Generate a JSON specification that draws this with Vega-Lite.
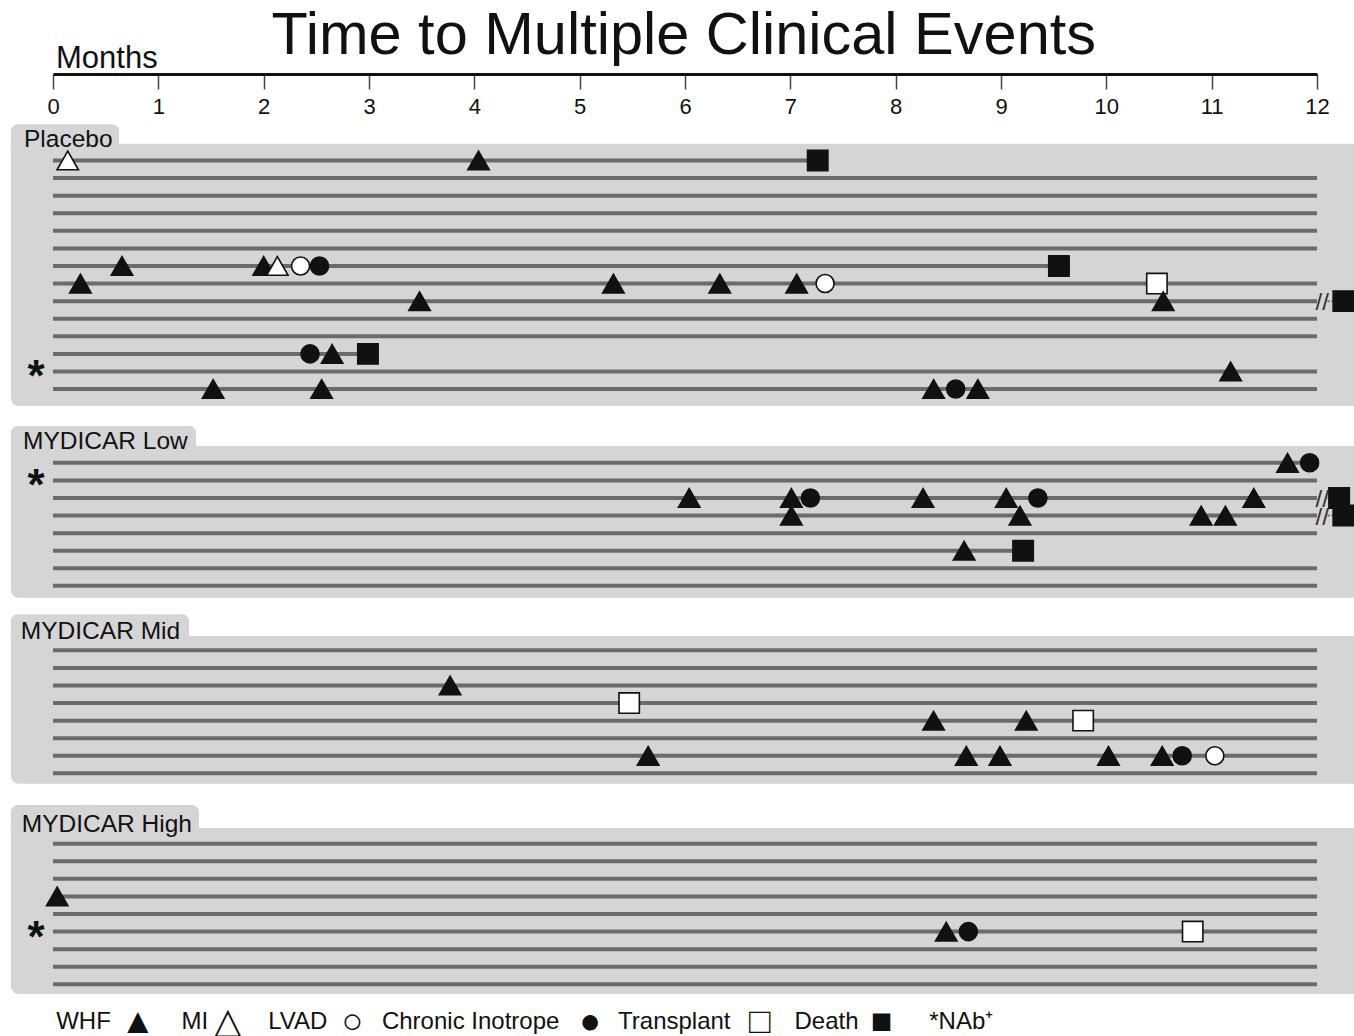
{
  "$schema": "https://vega.github.io/schema/vega-lite/v6.json",
  "background": "white",
  "padding": {"left": 10, "top": 5, "right": 0, "bottom": 0},
  "title": {"text": "Time to Multiple Clinical Events", "fontSize": 59.5, "fontWeight": "normal", "font": "Liberation Sans", "color": "#111111", "anchor": "middle", "offset": -23},
  "config": {"view": {"stroke": null}, "font": "Liberation Sans"},
  "datasets": {
    "groups": [
      {"group": "Placebo"}, {"group": "MYDICAR Low"}, {"group": "MYDICAR Mid"}, {"group": "MYDICAR High"}
    ],
    "patients": [
      {"group": "Placebo", "id": 1, "start": 0, "end": 7.26, "nab": false, "beyond": false},
      {"group": "Placebo", "id": 2, "start": 0, "end": 12, "nab": false, "beyond": false},
      {"group": "Placebo", "id": 3, "start": 0, "end": 12, "nab": false, "beyond": false},
      {"group": "Placebo", "id": 4, "start": 0, "end": 12, "nab": false, "beyond": false},
      {"group": "Placebo", "id": 5, "start": 0, "end": 12, "nab": false, "beyond": false},
      {"group": "Placebo", "id": 6, "start": 0, "end": 12, "nab": false, "beyond": false},
      {"group": "Placebo", "id": 7, "start": 0, "end": 9.55, "nab": false, "beyond": false},
      {"group": "Placebo", "id": 8, "start": 0, "end": 12, "nab": false, "beyond": false},
      {"group": "Placebo", "id": 9, "start": 0, "end": 12, "nab": false, "beyond": true},
      {"group": "Placebo", "id": 10, "start": 0, "end": 12, "nab": false, "beyond": false},
      {"group": "Placebo", "id": 11, "start": 0, "end": 12, "nab": false, "beyond": false},
      {"group": "Placebo", "id": 12, "start": 0, "end": 2.99, "nab": false, "beyond": false},
      {"group": "Placebo", "id": 13, "start": 0, "end": 12, "nab": true, "beyond": false},
      {"group": "Placebo", "id": 14, "start": 0, "end": 12, "nab": false, "beyond": false},
      {"group": "MYDICAR Low", "id": 1, "start": 0, "end": 12, "nab": false, "beyond": false},
      {"group": "MYDICAR Low", "id": 2, "start": 0, "end": 12, "nab": true, "beyond": false},
      {"group": "MYDICAR Low", "id": 3, "start": 0, "end": 12, "nab": false, "beyond": true},
      {"group": "MYDICAR Low", "id": 4, "start": 0, "end": 12, "nab": false, "beyond": true},
      {"group": "MYDICAR Low", "id": 5, "start": 0, "end": 12, "nab": false, "beyond": false},
      {"group": "MYDICAR Low", "id": 6, "start": 0, "end": 9.21, "nab": false, "beyond": false},
      {"group": "MYDICAR Low", "id": 7, "start": 0, "end": 12, "nab": false, "beyond": false},
      {"group": "MYDICAR Low", "id": 8, "start": 0, "end": 12, "nab": false, "beyond": false},
      {"group": "MYDICAR Mid", "id": 1, "start": 0, "end": 12, "nab": false, "beyond": false},
      {"group": "MYDICAR Mid", "id": 2, "start": 0, "end": 12, "nab": false, "beyond": false},
      {"group": "MYDICAR Mid", "id": 3, "start": 0, "end": 12, "nab": false, "beyond": false},
      {"group": "MYDICAR Mid", "id": 4, "start": 0, "end": 12, "nab": false, "beyond": false},
      {"group": "MYDICAR Mid", "id": 5, "start": 0, "end": 12, "nab": false, "beyond": false},
      {"group": "MYDICAR Mid", "id": 6, "start": 0, "end": 12, "nab": false, "beyond": false},
      {"group": "MYDICAR Mid", "id": 7, "start": 0, "end": 12, "nab": false, "beyond": false},
      {"group": "MYDICAR Mid", "id": 8, "start": 0, "end": 12, "nab": false, "beyond": false},
      {"group": "MYDICAR High", "id": 1, "start": 0, "end": 12, "nab": false, "beyond": false},
      {"group": "MYDICAR High", "id": 2, "start": 0, "end": 12, "nab": false, "beyond": false},
      {"group": "MYDICAR High", "id": 3, "start": 0, "end": 12, "nab": false, "beyond": false},
      {"group": "MYDICAR High", "id": 4, "start": 0, "end": 12, "nab": false, "beyond": false},
      {"group": "MYDICAR High", "id": 5, "start": 0, "end": 12, "nab": false, "beyond": false},
      {"group": "MYDICAR High", "id": 6, "start": 0, "end": 12, "nab": true, "beyond": false},
      {"group": "MYDICAR High", "id": 7, "start": 0, "end": 12, "nab": false, "beyond": false},
      {"group": "MYDICAR High", "id": 8, "start": 0, "end": 12, "nab": false, "beyond": false},
      {"group": "MYDICAR High", "id": 9, "start": 0, "end": 12, "nab": false, "beyond": false}
    ],
    "events": [
      {"group": "Placebo", "id": 1, "month": 0.14, "event": "MI"},
      {"group": "Placebo", "id": 1, "month": 4.04, "event": "WHF"},
      {"group": "Placebo", "id": 1, "month": 7.26, "event": "Death"},
      {"group": "Placebo", "id": 7, "month": 0.655, "event": "WHF"},
      {"group": "Placebo", "id": 7, "month": 2.0, "event": "WHF"},
      {"group": "Placebo", "id": 7, "month": 2.13, "event": "MI"},
      {"group": "Placebo", "id": 7, "month": 2.35, "event": "LVAD"},
      {"group": "Placebo", "id": 7, "month": 2.53, "event": "Chronic Inotrope"},
      {"group": "Placebo", "id": 7, "month": 9.55, "event": "Death"},
      {"group": "Placebo", "id": 8, "month": 0.26, "event": "WHF"},
      {"group": "Placebo", "id": 8, "month": 5.32, "event": "WHF"},
      {"group": "Placebo", "id": 8, "month": 6.33, "event": "WHF"},
      {"group": "Placebo", "id": 8, "month": 7.06, "event": "WHF"},
      {"group": "Placebo", "id": 8, "month": 7.33, "event": "LVAD"},
      {"group": "Placebo", "id": 8, "month": 10.48, "event": "Transplant"},
      {"group": "Placebo", "id": 9, "month": 3.48, "event": "WHF"},
      {"group": "Placebo", "id": 9, "month": 10.54, "event": "WHF"},
      {"group": "Placebo", "id": 9, "month": 12.25, "event": "Death"},
      {"group": "Placebo", "id": 12, "month": 2.44, "event": "Chronic Inotrope"},
      {"group": "Placebo", "id": 12, "month": 2.65, "event": "WHF"},
      {"group": "Placebo", "id": 12, "month": 2.99, "event": "Death"},
      {"group": "Placebo", "id": 13, "month": 11.18, "event": "WHF"},
      {"group": "Placebo", "id": 14, "month": 1.52, "event": "WHF"},
      {"group": "Placebo", "id": 14, "month": 2.55, "event": "WHF"},
      {"group": "Placebo", "id": 14, "month": 8.36, "event": "WHF"},
      {"group": "Placebo", "id": 14, "month": 8.57, "event": "Chronic Inotrope"},
      {"group": "Placebo", "id": 14, "month": 8.78, "event": "WHF"},
      {"group": "MYDICAR Low", "id": 1, "month": 11.72, "event": "WHF"},
      {"group": "MYDICAR Low", "id": 1, "month": 11.93, "event": "Chronic Inotrope"},
      {"group": "MYDICAR Low", "id": 3, "month": 6.04, "event": "WHF"},
      {"group": "MYDICAR Low", "id": 3, "month": 7.01, "event": "WHF"},
      {"group": "MYDICAR Low", "id": 3, "month": 7.19, "event": "Chronic Inotrope"},
      {"group": "MYDICAR Low", "id": 3, "month": 8.26, "event": "WHF"},
      {"group": "MYDICAR Low", "id": 3, "month": 9.05, "event": "WHF"},
      {"group": "MYDICAR Low", "id": 3, "month": 9.35, "event": "Chronic Inotrope"},
      {"group": "MYDICAR Low", "id": 3, "month": 11.4, "event": "WHF"},
      {"group": "MYDICAR Low", "id": 3, "month": 12.21, "event": "Death"},
      {"group": "MYDICAR Low", "id": 4, "month": 7.01, "event": "WHF"},
      {"group": "MYDICAR Low", "id": 4, "month": 9.18, "event": "WHF"},
      {"group": "MYDICAR Low", "id": 4, "month": 10.9, "event": "WHF"},
      {"group": "MYDICAR Low", "id": 4, "month": 11.13, "event": "WHF"},
      {"group": "MYDICAR Low", "id": 4, "month": 12.25, "event": "Death"},
      {"group": "MYDICAR Low", "id": 6, "month": 8.65, "event": "WHF"},
      {"group": "MYDICAR Low", "id": 6, "month": 9.21, "event": "Death"},
      {"group": "MYDICAR Mid", "id": 3, "month": 3.77, "event": "WHF"},
      {"group": "MYDICAR Mid", "id": 4, "month": 5.47, "event": "Transplant"},
      {"group": "MYDICAR Mid", "id": 5, "month": 8.36, "event": "WHF"},
      {"group": "MYDICAR Mid", "id": 5, "month": 9.24, "event": "WHF"},
      {"group": "MYDICAR Mid", "id": 5, "month": 9.78, "event": "Transplant"},
      {"group": "MYDICAR Mid", "id": 7, "month": 5.65, "event": "WHF"},
      {"group": "MYDICAR Mid", "id": 7, "month": 8.67, "event": "WHF"},
      {"group": "MYDICAR Mid", "id": 7, "month": 8.99, "event": "WHF"},
      {"group": "MYDICAR Mid", "id": 7, "month": 10.02, "event": "WHF"},
      {"group": "MYDICAR Mid", "id": 7, "month": 10.53, "event": "WHF"},
      {"group": "MYDICAR Mid", "id": 7, "month": 10.72, "event": "Chronic Inotrope"},
      {"group": "MYDICAR Mid", "id": 7, "month": 11.03, "event": "LVAD"},
      {"group": "MYDICAR High", "id": 4, "month": 0.04, "event": "WHF"},
      {"group": "MYDICAR High", "id": 6, "month": 8.48, "event": "WHF"},
      {"group": "MYDICAR High", "id": 6, "month": 8.69, "event": "Chronic Inotrope"},
      {"group": "MYDICAR High", "id": 6, "month": 10.82, "event": "Transplant"}
    ]
  },
  "bounds": "flush",
  "spacing": 40,
  "resolve": {"scale": {"x": "independent", "y": "independent"}},
  "vconcat": [
    {
      "width": 1264, "height": 30,
      "data": {"values": [{"m": 0, "label": "Months"}]},
      "mark": {"type": "text", "align": "left", "baseline": "alphabetic", "dx": 3, "dy": 9, "fontSize": 31, "color": "#111111"},
      "encoding": {
        "x": {"field": "m", "type": "quantitative", "scale": {"domain": [0, 12], "nice": false, "zero": false},
          "axis": {"orient": "bottom", "values": [0,1,2,3,4,5,6,7,8,9,10,11,12], "format": "d", "title": null, "grid": false, "domainColor": "#111111", "domainWidth": 3, "domainCap": "butt", "tickColor": "#444444", "tickWidth": 1.5, "tickSize": 15, "labelFontSize": 22, "labelPadding": 7, "labelColor": "#111111", "labelFlush": false, "labelOverlap": false, "labelFont": "Liberation Sans"}},
        "text": {"field": "label", "type": "nominal"}
      }
    },
    {
      "width": 1264, "height": 292,
      "layer": [
        {"data": {"name": "groups"}, "transform": [{"filter": "datum.group === 'Placebo'"}],
         "mark": {"type": "rect", "color": "#d5d5d5", "cornerRadiusBottomLeft": 8, "clip": false},
         "encoding": {"x": {"datum": -0.4, "type": "quantitative", "scale": {"domain": [0, 12], "nice": false, "zero": false}, "axis": null}, "x2": {"datum": 12.36}, "y": {"datum": 0.044, "type": "quantitative", "scale": {"domain": [-1.645, 14.965], "reverse": true, "nice": false, "zero": false}, "axis": null}, "y2": {"datum": 14.965}}},
        {"data": {"name": "groups"}, "transform": [{"filter": "datum.group === 'Placebo'"}],
         "mark": {"type": "rect", "color": "#d5d5d5", "cornerRadiusTopLeft": 7, "cornerRadiusTopRight": 7, "clip": false},
         "encoding": {"x": {"datum": -0.4, "type": "quantitative", "axis": null}, "x2": {"datum": 0.627}, "y": {"datum": -1.059, "type": "quantitative", "axis": null}, "y2": {"datum": 0.3}}},
        {"data": {"name": "groups"}, "transform": [{"filter": "datum.group === 'Placebo'"}],
         "mark": {"type": "text", "align": "left", "baseline": "alphabetic", "fontSize": 24.5, "color": "#111111"},
         "encoding": {"x": {"datum": -0.275, "type": "quantitative", "axis": null}, "y": {"datum": 0.232, "type": "quantitative", "axis": null}, "text": {"field": "group", "type": "nominal"}}},
        {"data": {"name": "patients"}, "transform": [{"filter": "datum.group === 'Placebo'"}],
         "mark": {"type": "rule", "color": "#6b6b6b", "strokeWidth": 4, "strokeCap": "butt"},
         "encoding": {"x": {"field": "start", "type": "quantitative", "axis": null}, "x2": {"field": "end"}, "y": {"field": "id", "type": "quantitative", "axis": null}}},
        {"data": {"name": "patients"}, "transform": [{"filter": "datum.group === 'Placebo' && datum.beyond"}],
         "mark": {"type": "rule", "color": "#6b6b6b", "strokeWidth": 2, "strokeDash": [2, 2], "clip": false},
         "encoding": {"x": {"datum": 12.1, "type": "quantitative", "axis": null}, "x2": {"datum": 12.2}, "y": {"field": "id", "type": "quantitative", "axis": null}}},
        {"data": {"name": "patients"}, "transform": [{"filter": "datum.group === 'Placebo' && datum.beyond"}],
         "mark": {"type": "text", "text": "//", "fontSize": 24, "baseline": "alphabetic", "dy": 9, "color": "#333333", "clip": false},
         "encoding": {"x": {"datum": 12.05, "type": "quantitative", "axis": null}, "y": {"field": "id", "type": "quantitative", "axis": null}}},
        {"data": {"name": "events"}, "transform": [{"filter": "datum.group === 'Placebo'"}],
         "mark": {"type": "point", "filled": true, "size": 460, "stroke": "#111111", "strokeWidth": 1.6, "opacity": 1, "clip": false},
         "encoding": {
           "x": {"field": "month", "type": "quantitative", "axis": null},
           "y": {"field": "id", "type": "quantitative", "axis": null},
           "shape": {"field": "event", "type": "nominal", "scale": {"domain": ["WHF", "MI", "LVAD", "Chronic Inotrope", "Transplant", "Death"], "range": ["M0,-0.866L1,0.866L-1,0.866Z", "M0,-0.866L1,0.866L-1,0.866Z", "M-0.84,0A0.84,0.84,0,1,1,0.84,0A0.84,0.84,0,1,1,-0.84,0Z", "M-0.84,0A0.84,0.84,0,1,1,0.84,0A0.84,0.84,0,1,1,-0.84,0Z", "M-0.95,-0.95L0.95,-0.95L0.95,0.95L-0.95,0.95Z", "M-0.95,-0.95L0.95,-0.95L0.95,0.95L-0.95,0.95Z"]}, "legend": null},
           "fill": {"field": "event", "type": "nominal", "scale": {"domain": ["WHF", "MI", "LVAD", "Chronic Inotrope", "Transplant", "Death"], "range": ["#111111", "#ffffff", "#ffffff", "#111111", "#ffffff", "#111111"]}, "legend": null}
         }},
        {"data": {"name": "patients"}, "transform": [{"filter": "datum.group === 'Placebo' && datum.nab"}],
         "mark": {"type": "text", "text": "*", "fontSize": 44, "fontWeight": "bold", "baseline": "alphabetic", "dy": 20, "color": "#111111"},
         "encoding": {"x": {"datum": -0.16, "type": "quantitative", "axis": null}, "y": {"field": "id", "type": "quantitative", "axis": null}}}
      ]
    },
    {
      "width": 1264, "height": 152,
      "layer": [
        {"data": {"name": "groups"}, "transform": [{"filter": "datum.group === 'MYDICAR Low'"}],
         "mark": {"type": "rect", "color": "#d5d5d5", "cornerRadiusBottomLeft": 8, "clip": false},
         "encoding": {"x": {"datum": -0.4, "type": "quantitative", "scale": {"domain": [0, 12], "nice": false, "zero": false}, "axis": null}, "x2": {"datum": 12.36}, "y": {"datum": 0.044, "type": "quantitative", "scale": {"domain": [0.044, 8.69], "reverse": true, "nice": false, "zero": false}, "axis": null}, "y2": {"datum": 8.673}}},
        {"data": {"name": "groups"}, "transform": [{"filter": "datum.group === 'MYDICAR Low'"}],
         "mark": {"type": "rect", "color": "#d5d5d5", "cornerRadiusTopLeft": 7, "cornerRadiusTopRight": 7, "clip": false},
         "encoding": {"x": {"datum": -0.4, "type": "quantitative", "axis": null}, "x2": {"datum": 1.358}, "y": {"datum": -1.094, "type": "quantitative", "axis": null}, "y2": {"datum": 0.3}}},
        {"data": {"name": "groups"}, "transform": [{"filter": "datum.group === 'MYDICAR Low'"}],
         "mark": {"type": "text", "align": "left", "baseline": "alphabetic", "fontSize": 24.5, "color": "#111111"},
         "encoding": {"x": {"datum": -0.285, "type": "quantitative", "axis": null}, "y": {"datum": 0.232, "type": "quantitative", "axis": null}, "text": {"field": "group", "type": "nominal"}}},
        {"data": {"name": "patients"}, "transform": [{"filter": "datum.group === 'MYDICAR Low'"}],
         "mark": {"type": "rule", "color": "#6b6b6b", "strokeWidth": 4, "strokeCap": "butt"},
         "encoding": {"x": {"field": "start", "type": "quantitative", "axis": null}, "x2": {"field": "end"}, "y": {"field": "id", "type": "quantitative", "axis": null}}},
        {"data": {"name": "patients"}, "transform": [{"filter": "datum.group === 'MYDICAR Low' && datum.beyond"}],
         "mark": {"type": "rule", "color": "#6b6b6b", "strokeWidth": 2, "strokeDash": [2, 2], "clip": false},
         "encoding": {"x": {"datum": 12.1, "type": "quantitative", "axis": null}, "x2": {"datum": 12.2}, "y": {"field": "id", "type": "quantitative", "axis": null}}},
        {"data": {"name": "patients"}, "transform": [{"filter": "datum.group === 'MYDICAR Low' && datum.beyond"}],
         "mark": {"type": "text", "text": "//", "fontSize": 24, "baseline": "alphabetic", "dy": 9, "color": "#333333", "clip": false},
         "encoding": {"x": {"datum": 12.05, "type": "quantitative", "axis": null}, "y": {"field": "id", "type": "quantitative", "axis": null}}},
        {"data": {"name": "events"}, "transform": [{"filter": "datum.group === 'MYDICAR Low'"}],
         "mark": {"type": "point", "filled": true, "size": 460, "stroke": "#111111", "strokeWidth": 1.6, "opacity": 1, "clip": false},
         "encoding": {
           "x": {"field": "month", "type": "quantitative", "axis": null},
           "y": {"field": "id", "type": "quantitative", "axis": null},
           "shape": {"field": "event", "type": "nominal", "scale": {"domain": ["WHF", "MI", "LVAD", "Chronic Inotrope", "Transplant", "Death"], "range": ["M0,-0.866L1,0.866L-1,0.866Z", "M0,-0.866L1,0.866L-1,0.866Z", "M-0.84,0A0.84,0.84,0,1,1,0.84,0A0.84,0.84,0,1,1,-0.84,0Z", "M-0.84,0A0.84,0.84,0,1,1,0.84,0A0.84,0.84,0,1,1,-0.84,0Z", "M-0.95,-0.95L0.95,-0.95L0.95,0.95L-0.95,0.95Z", "M-0.95,-0.95L0.95,-0.95L0.95,0.95L-0.95,0.95Z"]}, "legend": null},
           "fill": {"field": "event", "type": "nominal", "scale": {"domain": ["WHF", "MI", "LVAD", "Chronic Inotrope", "Transplant", "Death"], "range": ["#111111", "#ffffff", "#ffffff", "#111111", "#ffffff", "#111111"]}, "legend": null}
         }},
        {"data": {"name": "patients"}, "transform": [{"filter": "datum.group === 'MYDICAR Low' && datum.nab"}],
         "mark": {"type": "text", "text": "*", "fontSize": 44, "fontWeight": "bold", "baseline": "alphabetic", "dy": 20, "color": "#111111"},
         "encoding": {"x": {"datum": -0.16, "type": "quantitative", "axis": null}, "y": {"field": "id", "type": "quantitative", "axis": null}}}
      ]
    },
    {
      "width": 1264, "height": 150,
      "layer": [
        {"data": {"name": "groups"}, "transform": [{"filter": "datum.group === 'MYDICAR Mid'"}],
         "mark": {"type": "rect", "color": "#d5d5d5", "cornerRadiusBottomLeft": 8, "clip": false},
         "encoding": {"x": {"datum": -0.4, "type": "quantitative", "scale": {"domain": [0, 12], "nice": false, "zero": false}, "axis": null}, "x2": {"datum": 12.36}, "y": {"datum": 0.186, "type": "quantitative", "scale": {"domain": [0.3, 8.832], "reverse": true, "nice": false, "zero": false}, "axis": null}, "y2": {"datum": 8.588}}},
        {"data": {"name": "groups"}, "transform": [{"filter": "datum.group === 'MYDICAR Mid'"}],
         "mark": {"type": "rect", "color": "#d5d5d5", "cornerRadiusTopLeft": 7, "cornerRadiusTopRight": 7, "clip": false},
         "encoding": {"x": {"datum": -0.4, "type": "quantitative", "axis": null}, "x2": {"datum": 1.291}, "y": {"datum": -1.048, "type": "quantitative", "axis": null}, "y2": {"datum": 0.45}}},
        {"data": {"name": "groups"}, "transform": [{"filter": "datum.group === 'MYDICAR Mid'"}],
         "mark": {"type": "text", "align": "left", "baseline": "alphabetic", "fontSize": 24.5, "color": "#111111"},
         "encoding": {"x": {"datum": -0.305, "type": "quantitative", "axis": null}, "y": {"datum": 0.36, "type": "quantitative", "axis": null}, "text": {"field": "group", "type": "nominal"}}},
        {"data": {"name": "patients"}, "transform": [{"filter": "datum.group === 'MYDICAR Mid'"}],
         "mark": {"type": "rule", "color": "#6b6b6b", "strokeWidth": 4, "strokeCap": "butt"},
         "encoding": {"x": {"field": "start", "type": "quantitative", "axis": null}, "x2": {"field": "end"}, "y": {"field": "id", "type": "quantitative", "axis": null}}},
        {"data": {"name": "events"}, "transform": [{"filter": "datum.group === 'MYDICAR Mid'"}],
         "mark": {"type": "point", "filled": true, "size": 460, "stroke": "#111111", "strokeWidth": 1.6, "opacity": 1, "clip": false},
         "encoding": {
           "x": {"field": "month", "type": "quantitative", "axis": null},
           "y": {"field": "id", "type": "quantitative", "axis": null},
           "shape": {"field": "event", "type": "nominal", "scale": {"domain": ["WHF", "MI", "LVAD", "Chronic Inotrope", "Transplant", "Death"], "range": ["M0,-0.866L1,0.866L-1,0.866Z", "M0,-0.866L1,0.866L-1,0.866Z", "M-0.84,0A0.84,0.84,0,1,1,0.84,0A0.84,0.84,0,1,1,-0.84,0Z", "M-0.84,0A0.84,0.84,0,1,1,0.84,0A0.84,0.84,0,1,1,-0.84,0Z", "M-0.95,-0.95L0.95,-0.95L0.95,0.95L-0.95,0.95Z", "M-0.95,-0.95L0.95,-0.95L0.95,0.95L-0.95,0.95Z"]}, "legend": null},
           "fill": {"field": "event", "type": "nominal", "scale": {"domain": ["WHF", "MI", "LVAD", "Chronic Inotrope", "Transplant", "Death"], "range": ["#111111", "#ffffff", "#ffffff", "#111111", "#ffffff", "#111111"]}, "legend": null}
         }}
      ]
    },
    {
      "width": 1264, "height": 166,
      "layer": [
        {"data": {"name": "groups"}, "transform": [{"filter": "datum.group === 'MYDICAR High'"}],
         "mark": {"type": "rect", "color": "#d5d5d5", "cornerRadiusBottomLeft": 8, "clip": false},
         "encoding": {"x": {"datum": -0.4, "type": "quantitative", "scale": {"domain": [0, 12], "nice": false, "zero": false}, "axis": null}, "x2": {"datum": 12.36}, "y": {"datum": 0.107, "type": "quantitative", "scale": {"domain": [0.107, 9.55], "reverse": true, "nice": false, "zero": false}, "axis": null}, "y2": {"datum": 9.55}}},
        {"data": {"name": "groups"}, "transform": [{"filter": "datum.group === 'MYDICAR High'"}],
         "mark": {"type": "rect", "color": "#d5d5d5", "cornerRadiusTopLeft": 7, "cornerRadiusTopRight": 7, "clip": false},
         "encoding": {"x": {"datum": -0.4, "type": "quantitative", "axis": null}, "x2": {"datum": 1.386}, "y": {"datum": -1.201, "type": "quantitative", "axis": null}, "y2": {"datum": 0.4}}},
        {"data": {"name": "groups"}, "transform": [{"filter": "datum.group === 'MYDICAR High'"}],
         "mark": {"type": "text", "align": "left", "baseline": "alphabetic", "fontSize": 24.5, "color": "#111111"},
         "encoding": {"x": {"datum": -0.296, "type": "quantitative", "axis": null}, "y": {"datum": 0.33, "type": "quantitative", "axis": null}, "text": {"field": "group", "type": "nominal"}}},
        {"data": {"name": "patients"}, "transform": [{"filter": "datum.group === 'MYDICAR High'"}],
         "mark": {"type": "rule", "color": "#6b6b6b", "strokeWidth": 4, "strokeCap": "butt"},
         "encoding": {"x": {"field": "start", "type": "quantitative", "axis": null}, "x2": {"field": "end"}, "y": {"field": "id", "type": "quantitative", "axis": null}}},
        {"data": {"name": "events"}, "transform": [{"filter": "datum.group === 'MYDICAR High'"}],
         "mark": {"type": "point", "filled": true, "size": 460, "stroke": "#111111", "strokeWidth": 1.6, "opacity": 1, "clip": false},
         "encoding": {
           "x": {"field": "month", "type": "quantitative", "axis": null},
           "y": {"field": "id", "type": "quantitative", "axis": null},
           "shape": {"field": "event", "type": "nominal", "scale": {"domain": ["WHF", "MI", "LVAD", "Chronic Inotrope", "Transplant", "Death"], "range": ["M0,-0.866L1,0.866L-1,0.866Z", "M0,-0.866L1,0.866L-1,0.866Z", "M-0.84,0A0.84,0.84,0,1,1,0.84,0A0.84,0.84,0,1,1,-0.84,0Z", "M-0.84,0A0.84,0.84,0,1,1,0.84,0A0.84,0.84,0,1,1,-0.84,0Z", "M-0.95,-0.95L0.95,-0.95L0.95,0.95L-0.95,0.95Z", "M-0.95,-0.95L0.95,-0.95L0.95,0.95L-0.95,0.95Z"]}, "legend": null},
           "fill": {"field": "event", "type": "nominal", "scale": {"domain": ["WHF", "MI", "LVAD", "Chronic Inotrope", "Transplant", "Death"], "range": ["#111111", "#ffffff", "#ffffff", "#111111", "#ffffff", "#111111"]}, "legend": null}
         }},
        {"data": {"name": "patients"}, "transform": [{"filter": "datum.group === 'MYDICAR High' && datum.nab"}],
         "mark": {"type": "text", "text": "*", "fontSize": 44, "fontWeight": "bold", "baseline": "alphabetic", "dy": 20, "color": "#111111"},
         "encoding": {"x": {"datum": -0.16, "type": "quantitative", "axis": null}, "y": {"field": "id", "type": "quantitative", "axis": null}}},
        {"data": {"values": [{"legend": "WHF\u2003\u2003\u2002\u00a0\u2006MI\u2003\u2003\u2002LVAD\u2003\u2003\u00a0Chronic Inotrope\u2003\u2003\u00a0\u2006Transplant\u2003\u2003\u2002\u2006Death\u2003\u2003\u2002\u00a0\u2006*NAb⁺"}]},
         "mark": {"type": "text", "align": "left", "baseline": "middle", "fontSize": 24, "color": "#111111", "clip": false},
         "encoding": {"x": {"datum": 0.03, "type": "quantitative", "axis": null}, "y": {"datum": 11.14, "type": "quantitative", "axis": null}, "text": {"field": "legend", "type": "nominal"}}},
        {"data": {"values": [{"symbols": "▲\u2003\u00a0\u2006\u2006△\u2003\u2003\u2002\u00a0○\u2003\u2003\u2003\u2003\u2003\u2003●\u2003\u2003\u2003\u2002\u00a0\u2006\u2006□\u2003\u2003\u2002\u00a0■"}]},
         "mark": {"type": "text", "align": "left", "baseline": "middle", "fontSize": 36, "color": "#111111", "clip": false},
         "encoding": {"x": {"datum": 0.636, "type": "quantitative", "axis": null}, "y": {"datum": 11.14, "type": "quantitative", "axis": null}, "text": {"field": "symbols", "type": "nominal"}}}
      ]
    }
  ]
}
